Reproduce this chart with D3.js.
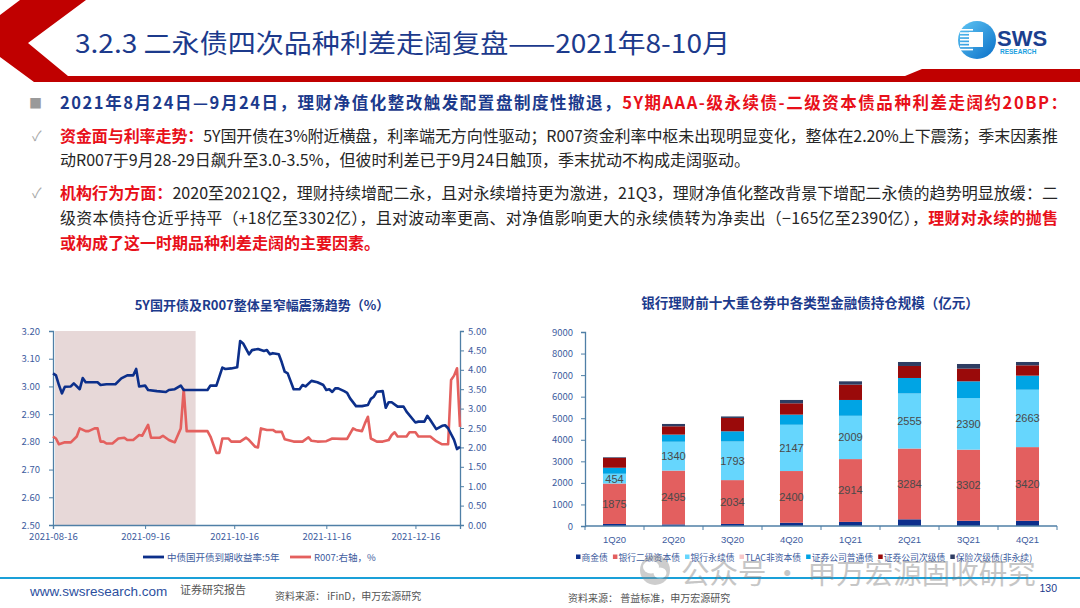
<!DOCTYPE html>
<html>
<head>
<meta charset="utf-8">
<script src="https://cdn.jsdelivr.net/npm/d3@7"></script>
<style>
  html, body { margin: 0; padding: 0; background: #fff; }
  svg { display: block; }
  text { font-family: "Noto Sans CJK SC", "Noto Sans", sans-serif; }
  .num { font-family: "Liberation Sans", Arial, sans-serif; }
</style>
</head>
<body>
<svg id="page" width="1080" height="608"></svg>
<script>
// ---- left chart: 5Y CDB yield (left axis) and R007 (right axis) ----
const bondDates = ["2021-08-16","2021-08-17","2021-08-18","2021-08-19","2021-08-20","2021-08-22","2021-08-23","2021-08-25","2021-08-26","2021-08-27","2021-08-31","2021-09-01","2021-09-03","2021-09-06","2021-09-08","2021-09-10","2021-09-12","2021-09-13","2021-09-14","2021-09-16","2021-09-17","2021-09-20","2021-09-23","2021-09-24","2021-09-26","2021-09-28","2021-09-29","2021-10-07","2021-10-08","2021-10-10","2021-10-12","2021-10-13","2021-10-15","2021-10-17","2021-10-18","2021-10-19","2021-10-21","2021-10-22","2021-10-24","2021-10-26","2021-10-27","2021-10-28","2021-10-29","2021-10-31","2021-11-01","2021-11-02","2021-11-03","2021-11-05","2021-11-07","2021-11-08","2021-11-09","2021-11-11","2021-11-13","2021-11-15","2021-11-16","2021-11-17","2021-11-18","2021-11-19","2021-11-20","2021-11-22","2021-11-23","2021-11-24","2021-11-26","2021-11-28","2021-11-30","2021-12-01","2021-12-02","2021-12-03","2021-12-05","2021-12-06","2021-12-07","2021-12-08","2021-12-10","2021-12-12","2021-12-13","2021-12-16","2021-12-17","2021-12-19","2021-12-20","2021-12-21","2021-12-23","2021-12-25","2021-12-26","2021-12-27","2021-12-29","2021-12-30","2021-12-31"]
const bondYield = [3.047,3.04,3.005,2.975,2.999,3.0,3.011,2.99,3.03,3.015,3.015,3.005,3.008,3.008,3.029,3.04,3.04,3.063,3.0,3.003,2.987,2.983,2.98,2.987,2.99,3.003,2.987,2.987,3.003,3.003,3.068,3.063,3.065,3.069,3.164,3.155,3.116,3.131,3.135,3.128,3.131,3.116,3.12,3.116,3.087,3.053,3.047,2.99,2.99,3.005,3.0,3.02,3.015,3.005,2.987,2.99,2.98,2.993,2.993,2.983,2.977,2.957,2.929,2.929,2.933,2.955,2.963,2.981,2.983,2.923,2.943,2.943,2.927,2.927,2.909,2.87,2.873,2.873,2.894,2.879,2.846,2.858,2.86,2.849,2.807,2.774,2.782]

const repoDates = ["2021-08-16","2021-08-17","2021-08-18","2021-08-20","2021-08-22","2021-08-24","2021-08-25","2021-08-27","2021-08-28","2021-08-30","2021-08-31","2021-09-01","2021-09-02","2021-09-03","2021-09-05","2021-09-07","2021-09-09","2021-09-10","2021-09-12","2021-09-14","2021-09-15","2021-09-17","2021-09-18","2021-09-21","2021-09-22","2021-09-24","2021-09-25","2021-09-26","2021-09-28","2021-09-29","2021-09-30","2021-10-07","2021-10-08","2021-10-10","2021-10-11","2021-10-12","2021-10-14","2021-10-15","2021-10-18","2021-10-20","2021-10-21","2021-10-23","2021-10-24","2021-10-25","2021-10-27","2021-10-29","2021-10-30","2021-11-01","2021-11-02","2021-11-03","2021-11-05","2021-11-08","2021-11-10","2021-11-11","2021-11-13","2021-11-16","2021-11-18","2021-11-21","2021-11-23","2021-11-25","2021-11-26","2021-11-28","2021-11-29","2021-11-30","2021-12-01","2021-12-03","2021-12-05","2021-12-07","2021-12-08","2021-12-09","2021-12-10","2021-12-13","2021-12-14","2021-12-16","2021-12-17","2021-12-21","2021-12-23","2021-12-25","2021-12-27","2021-12-28","2021-12-29","2021-12-30","2021-12-31"]
const repoRate = [2.28,2.23,2.08,2.13,2.13,2.28,2.49,2.42,2.42,2.49,2.49,2.15,2.15,2.1,2.1,2.23,2.25,2.19,2.19,2.32,2.3,2.58,2.25,2.25,2.3,2.19,2.16,2.13,2.49,3.5,2.42,2.42,2.28,1.86,1.86,2.23,2.23,2.15,2.15,2.25,2.19,2.02,2.0,2.49,2.45,2.45,2.4,2.4,2.21,2.19,2.15,2.15,2.26,2.17,2.15,2.16,2.23,2.22,2.22,2.49,2.45,2.42,2.62,2.79,2.23,2.15,2.15,2.19,2.32,2.39,2.28,2.28,2.39,2.39,2.28,2.28,2.16,2.08,2.08,3.74,3.85,4.04,2.53]

const shadeDates = ["2021-08-16", "2021-10-03"]
const leftTicksX = ["2021-08-16","2021-09-16","2021-10-16","2021-11-16","2021-12-16"]
const leftTicksY = [2.5,2.6,2.7,2.8,2.9,3.0,3.1,3.2]
const rightTicksY = [0,0.5,1,1.5,2,2.5,3,3.5,4,4.5,5]

// ---- right chart: holdings by bond type (亿元) ----
const quarters = ["1Q20","2Q20","3Q20","4Q20","1Q21","2Q21","3Q21","4Q21"]
const typeNames = ["商金债","银行二级资本债","银行永续债","TLAC非资本债","证券公司普通债","证券公司次级债","保险次级债(非永续)"]
const commercialBank = [95,75,95,150,190,310,240,240]
const tier2Capital = [1875,2495,2034,2400,2914,3284,3302,3420]
const perpetual = [454,1340,1793,2147,2009,2555,2390,2663]
const tlac = [0,0,0,0,0,0,0,0]
const brokerSenior = [279,330,472,470,734,718,780,652]
const brokerSub = [457,386,618,525,711,557,588,479]
const insurerSub = [30,108,70,155,154,185,216,155]
const typeColors = ["#0d2f8c","#e35f5f","#66d6fd","#f6c7c9","#00a4e4","#9a0a0a","#2e3d62"]
const barTicksY = [0,1000,2000,3000,4000,5000,6000,7000,8000,9000]

const svg = d3.select("#page")
const navy = "#1c3a8c", red = "#e8101a", axisCol = "#4f7fa6", tickCol = "#3d5c9e"

// ---- header ----
svg.append("polygon")
  .attr("points", "20,0 86,0 28,43 68,76 905,76 922,69 1080,69 1080,82 34,82 0,57 0,15")
  .attr("fill", "#c00000")

svg.append("text")
  .attr("x", 75).attr("y", 53)
  .attr("font-size", 26)
  .attr("fill", navy)
  .attr("textLength", 655)
  .attr("lengthAdjust", "spacingAndGlyphs")
  .text("3.2.3 二永债四次品种利差走阔复盘——2021年8-10月")

// logo
const grad = svg.append("defs").append("linearGradient")
  .attr("id", "logoGrad").attr("x1", 0).attr("y1", 0).attr("x2", 1).attr("y2", 1)
grad.append("stop").attr("offset", "0%").attr("stop-color", "#5fc6f4")
grad.append("stop").attr("offset", "100%").attr("stop-color", "#0a6fc8")
const logo = svg.append("g")
logo.append("circle").attr("cx", 977).attr("cy", 40).attr("r", 19).attr("fill", "url(#logoGrad)")
d3.range(7).forEach(i => {
  logo.append("rect").attr("x", 960).attr("y", 29 + i * 3.3).attr("width", 13).attr("height", 1.6).attr("fill", "#fff")
})
logo.append("rect").attr("x", 969).attr("y", 32).attr("width", 14).attr("height", 15).attr("fill", "#fff")
logo.append("text").attr("x", 997).attr("y", 46).attr("font-size", 22).attr("font-weight", 700)
  .attr("fill", "#1b3f8f").attr("class", "num").text("SWS")
logo.append("text").attr("x", 1000).attr("y", 54).attr("font-size", 6.5).attr("font-weight", 700)
  .attr("fill", "#1aa0e0").attr("class", "num").text("RESEARCH")

// ---- body text ----
const bodyLines = [
  {y: 109, w: 1007, size: 16.5, mark: "■", parts: [
    ["2021年8月24日—9月24日，理财净值化整改触发配置盘制度性撤退，", navy, 700],
    ["5Y期AAA-级永续债-二级资本债品种利差走阔约20BP：", red, 700]]},
  {y: 142, w: 998, size: 16, mark: "✓", parts: [
    ["资金面与利率走势：", red, 700],
    ["5Y国开债在3%附近横盘，利率端无方向性驱动；R007资金利率中枢未出现明显变化，整体在2.20%上下震荡；季末因素推", "#262626", 400]]},
  {y: 166, w: null, size: 16, mark: null, parts: [
    ["动R007于9月28-29日飙升至3.0-3.5%，但彼时利差已于9月24日触顶，季末扰动不构成走阔驱动。", "#262626", 400]]},
  {y: 199, w: 998, size: 16, mark: "✓", parts: [
    ["机构行为方面：", red, 700],
    ["2020至2021Q2，理财持续增配二永，且对永续增持更为激进，21Q3，理财净值化整改背景下增配二永债的趋势明显放缓：二", "#262626", 400]]},
  {y: 224, w: 998, size: 16, mark: null, parts: [
    ["级资本债持仓近乎持平（+18亿至3302亿），且对波动率更高、对净值影响更大的永续债转为净卖出（−165亿至2390亿），", "#262626", 400],
    ["理财对永续的抛售", red, 700]]},
  {y: 249, w: null, size: 16, mark: null, parts: [
    ["或构成了这一时期品种利差走阔的主要因素。", red, 700]]}
]

bodyLines.forEach(line => {
  if (line.mark) {
    svg.append("text").attr("x", line.mark === "■" ? 29 : 32).attr("y", line.y - 1)
      .attr("font-size", line.mark === "■" ? 13 : 14)
      .attr("fill", line.mark === "■" ? "#9a9a9a" : "#a8a8a8")
      .text(line.mark)
  }
  const t = svg.append("text").attr("x", 60).attr("y", line.y).attr("font-size", line.size)
  if (line.w) t.attr("textLength", line.w).attr("lengthAdjust", "spacing")
  line.parts.forEach(p => {
    t.append("tspan").attr("fill", p[1]).attr("font-weight", p[2]).text(p[0])
  })
})

// ---- left chart ----
const parse = d3.timeParse("%Y-%m-%d")
const x = d3.scaleTime()
  .domain([parse("2021-08-16"), parse("2021-12-31")])
  .range([53, 460])
const yL = d3.scaleLinear().domain([2.5, 3.2]).range([525, 331])
const yR = d3.scaleLinear().domain([0, 5]).range([525, 331])

svg.append("text").attr("x", 262).attr("y", 310).attr("text-anchor", "middle")
  .attr("font-size", 13).attr("font-weight", 700).attr("fill", navy)
  .text("5Y国开债及R007整体呈窄幅震荡趋势（%）")

svg.append("rect")
  .attr("x", x(parse(shadeDates[0])) + 2)
  .attr("y", yL(3.2))
  .attr("width", x(parse(shadeDates[1])) - x(parse(shadeDates[0])) - 2)
  .attr("height", yL(2.5) - yL(3.2))
  .attr("fill", "#e7d8d8")

const styleAxis = g => {
  g.selectAll(".domain").attr("stroke", axisCol).attr("stroke-width", 1.3)
  g.selectAll(".tick line").attr("stroke", axisCol)
  g.selectAll(".tick text").attr("fill", tickCol).attr("font-size", 9.5)
    .attr("font-family", "Liberation Sans, Arial, sans-serif")
}

svg.append("g").attr("transform", "translate(53,0)")
  .call(d3.axisLeft(yL).tickValues(leftTicksY).tickFormat(d3.format(".2f")).tickSize(4).tickPadding(9))
  .call(styleAxis)
svg.append("g").attr("transform", "translate(460,0)")
  .call(d3.axisRight(yR).tickValues(rightTicksY).tickFormat(d3.format(".2f")).tickSize(4).tickPadding(4))
  .call(styleAxis)
svg.append("g").attr("transform", "translate(0,525)")
  .call(d3.axisBottom(x).tickValues(leftTicksX.map(parse)).tickFormat(d3.timeFormat("%Y-%m-%d")).tickSize(4).tickPadding(4))
  .call(styleAxis)

const bondLine = d3.line().x((d, i) => x(parse(bondDates[i]))).y(d => yL(d))
const repoLine = d3.line().x((d, i) => x(parse(repoDates[i]))).y(d => yR(d))

svg.append("path").datum(repoRate).attr("d", repoLine)
  .attr("fill", "none").attr("stroke", "#e4605e").attr("stroke-width", 2.6).attr("stroke-linejoin", "round")
svg.append("path").datum(bondYield).attr("d", bondLine)
  .attr("fill", "none").attr("stroke", "#0c2f8a").attr("stroke-width", 2.6).attr("stroke-linejoin", "round")

const lineLegend = [
  {name: "中债国开债到期收益率:5年", color: "#0c2f8a", x: 143},
  {name: "R007:右轴，%", color: "#e4605e", x: 290}
]
lineLegend.forEach(l => {
  svg.append("line").attr("x1", l.x).attr("x2", l.x + 21).attr("y1", 557).attr("y2", 557)
    .attr("stroke", l.color).attr("stroke-width", 2.8)
  svg.append("text").attr("x", l.x + 24).attr("y", 560.5).attr("font-size", 9.5)
    .attr("fill", tickCol).text(l.name)
})

// ---- right chart ----
svg.append("text").attr("x", 810).attr("y", 308).attr("text-anchor", "middle")
  .attr("font-size", 13.5).attr("font-weight", 700).attr("fill", navy)
  .text("银行理财前十大重仓券中各类型金融债持仓规模（亿元）")

const table = quarters.map((q, i) => ({
  q,
  "商金债": commercialBank[i],
  "银行二级资本债": tier2Capital[i],
  "银行永续债": perpetual[i],
  "TLAC非资本债": tlac[i],
  "证券公司普通债": brokerSenior[i],
  "证券公司次级债": brokerSub[i],
  "保险次级债(非永续)": insurerSub[i]
}))

const xb = d3.scaleBand().domain(quarters).range([585, 1057]).paddingInner(0.61).paddingOuter(0.305)
const yb = d3.scaleLinear().domain([0, 9000]).range([526, 332])
const color = d3.scaleOrdinal().domain(typeNames).range(typeColors)

svg.append("g").attr("transform", "translate(585,0)")
  .call(d3.axisLeft(yb).tickValues(barTicksY).tickFormat(d3.format("d")).tickSize(4).tickPadding(8))
  .call(styleAxis)

const series = d3.stack().keys(typeNames)(table)

svg.append("g").selectAll("g")
  .data(series)
  .join("g")
  .attr("fill", d => color(d.key))
  .selectAll("rect")
  .data(d => d)
  .join("rect")
  .attr("x", d => xb(d.data.q))
  .attr("y", d => yb(d[1]))
  .attr("width", xb.bandwidth())
  .attr("height", d => yb(d[0]) - yb(d[1]))

// x axis with ticks at band boundaries
const xAxisG = svg.append("g").attr("transform", "translate(0,526)")
xAxisG.append("line").attr("x1", 585).attr("x2", 1057).attr("stroke", axisCol).attr("stroke-width", 1.3)
xAxisG.selectAll(".bt")
  .data(d3.range(quarters.length + 1))
  .join("line")
  .attr("x1", i => 585 + i * xb.step()).attr("x2", i => 585 + i * xb.step())
  .attr("y1", 0).attr("y2", 4).attr("stroke", axisCol)
xAxisG.selectAll(".ql")
  .data(quarters)
  .join("text")
  .attr("class", "num")
  .attr("x", d => xb(d) + xb.bandwidth() / 2)
  .attr("y", 17).attr("text-anchor", "middle")
  .attr("font-size", 9.5).attr("fill", tickCol)
  .text(d => d)

// value labels for 二级资本债 and 永续债
series.filter(s => s.key === "银行二级资本债" || s.key === "银行永续债").forEach(s => {
  svg.append("g").selectAll("text")
    .data(s)
    .join("text")
    .attr("class", "num")
    .attr("x", d => xb(d.data.q) + xb.bandwidth() / 2)
    .attr("y", d => (yb(d[0]) + yb(d[1])) / 2 + 4)
    .attr("text-anchor", "middle")
    .attr("font-size", 11)
    .attr("fill", "#4a4a4a")
    .text(d => d.data[s.key])
})

// legend laid out left to right from measured widths
let lx = 576
typeNames.forEach((n, i) => {
  svg.append("rect").attr("x", lx).attr("y", 554.5).attr("width", 4.5).attr("height", 4.5).attr("fill", typeColors[i])
  const t = svg.append("text").attr("x", lx + 5.5).attr("y", 560.5).attr("font-size", 8.8)
    .attr("fill", tickCol).text(n)
  lx += 5.5 + t.node().getComputedTextLength() + 5
})

// ---- footer ----
svg.append("line").attr("x1", 0).attr("x2", 1080).attr("y1", 578).attr("y2", 578)
  .attr("stroke", "#1aa0d8").attr("stroke-width", 1.8)

// watermark
const wm = svg.append("g").attr("opacity", 0.42)
wm.append("circle").attr("cx", 655).attr("cy", 570).attr("r", 15).attr("fill", "#8a8a8a")
wm.append("ellipse").attr("cx", 651).attr("cy", 567).attr("rx", 8).attr("ry", 6.5).attr("fill", "#fff")
wm.append("ellipse").attr("cx", 660).attr("cy", 573).attr("rx", 6.5).attr("ry", 5.5).attr("fill", "#fff")
wm.append("text").attr("x", 681).attr("y", 584).attr("font-size", 28.5).attr("fill", "#7a7a7a")
  .text("公众号 · 申万宏源固收研究")

svg.append("text").attr("class", "num").attr("x", 30).attr("y", 596).attr("font-size", 13.5)
  .attr("fill", "#2c4f9e").text("www.swsresearch.com")
svg.append("text").attr("x", 180).attr("y", 594).attr("font-size", 11).attr("fill", "#555")
  .text("证券研究报告")
svg.append("text").attr("x", 275).attr("y", 600).attr("font-size", 10).attr("fill", "#555")
  .text("资料来源： iFinD，申万宏源研究")
svg.append("text").attr("x", 568).attr("y", 602).attr("font-size", 10).attr("fill", "#555")
  .text("资料来源： 普益标准，申万宏源研究")
svg.append("text").attr("class", "num").attr("x", 1057).attr("y", 592).attr("text-anchor", "end")
  .attr("font-size", 10.5).attr("fill", "#1c3a8c").text("130")
</script>
</body>
</html>
